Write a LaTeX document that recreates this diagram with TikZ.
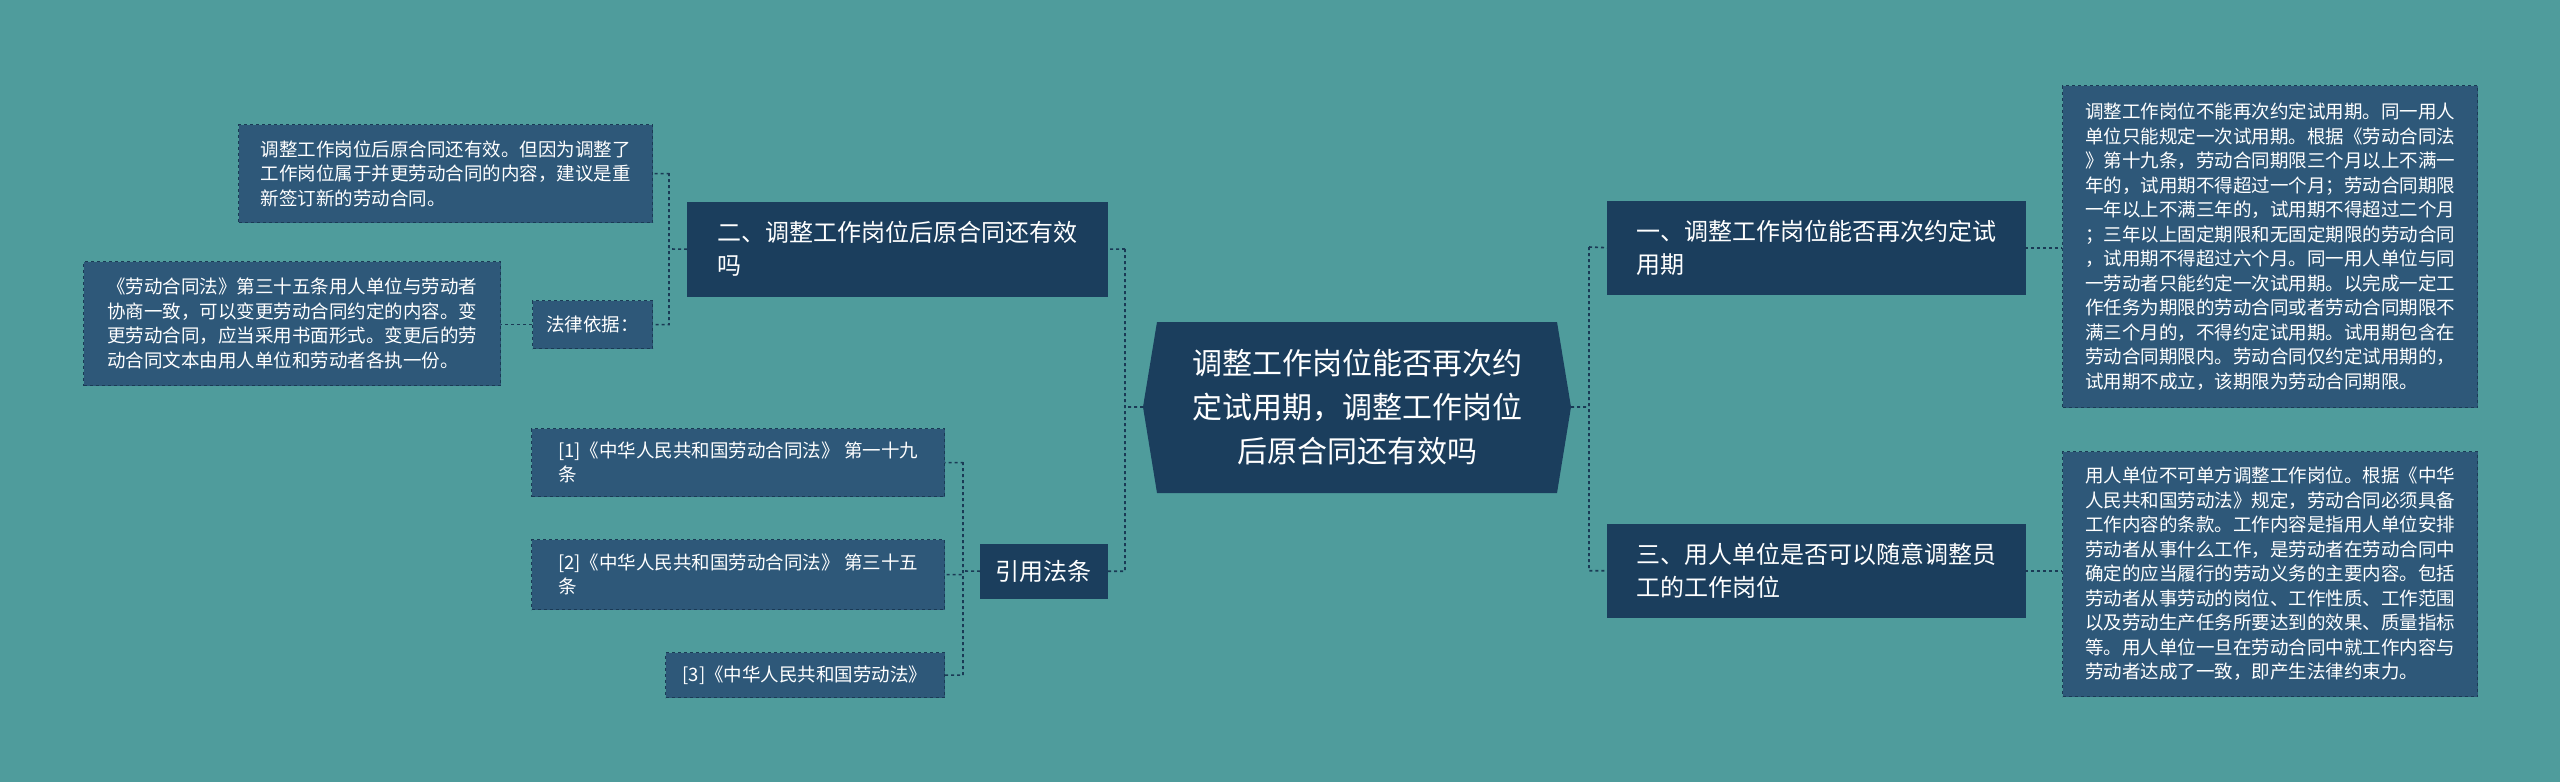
\documentclass[tikz,border=0pt]{standalone}
\usepackage{fontspec}
\setmainfont{Noto Sans CJK SC}
\begin{document}
\begin{tikzpicture}[x=1pt,y=-1pt,
  main/.style={fill=mainc,draw=mainc,text=white,anchor=north west,align=left,inner xsep=10pt,font=\fontsize{24}{33}\selectfont},
  leaf/.style={fill=leafc,draw=linec,dashed,line width=1.2pt,text=white,anchor=north west,align=left,inner xsep=10pt,font=\fontsize{18.5}{24.5}\selectfont},
  conn/.style={draw=linec,dashed,line width=1.6pt}]
\definecolor{bgc}{HTML}{4F9C9C}
\definecolor{mainc}{HTML}{1B3E5D}
\definecolor{leafc}{HTML}{2E5879}
\definecolor{linec}{HTML}{1A3A55}
\fill[bgc] (0,0) rectangle (2560,782);
\useasboundingbox (0,0) rectangle (2560,782);
% center
\fill[mainc] (1143,407) -- (1157,322) -- (1557,322) -- (1571,407) -- (1557,493) -- (1157,493) -- cycle;
\node[text=white,align=center,font=\fontsize{30}{44}\selectfont] (c) at (1357,407) {调整工作岗位能否再次约\\定试用期，调整工作岗位\\后原合同还有效吗};
\coordinate (cw) at (1143,407);
\coordinate (ce) at (1571,407);
% right
\node[main,minimum width=418pt,minimum height=93pt] (r1) at (1607,201) {一、调整工作岗位能否再次约定试\\用期};
\node[main,minimum width=418pt,minimum height=93pt] (r3) at (1607,524) {三、用人单位是否可以随意调整员\\工的工作岗位};
\node[leaf,minimum width=415pt,minimum height=322pt] (t1) at (2062,85) {调整工作岗位不能再次约定试用期。同一用人\\单位只能规定一次试用期。根据《劳动合同法\\》第十九条，劳动合同期限三个月以上不满一\\年的，试用期不得超过一个月；劳动合同期限\\一年以上不满三年的，试用期不得超过二个月\\；三年以上固定期限和无固定期限的劳动合同\\，试用期不得超过六个月。同一用人单位与同\\一劳动者只能约定一次试用期。以完成一定工\\作任务为期限的劳动合同或者劳动合同期限不\\满三个月的，不得约定试用期。试用期包含在\\劳动合同期限内。劳动合同仅约定试用期的，\\试用期不成立，该期限为劳动合同期限。};
\node[leaf,minimum width=415pt,minimum height=245pt] (t3) at (2062,451) {用人单位不可单方调整工作岗位。根据《中华\\人民共和国劳动法》规定，劳动合同必须具备\\工作内容的条款。工作内容是指用人单位安排\\劳动者从事什么工作，是劳动者在劳动合同中\\确定的应当履行的劳动义务的主要内容。包括\\劳动者从事劳动的岗位、工作性质、工作范围\\以及劳动生产任务所要达到的效果、质量指标\\等。用人单位一旦在劳动合同中就工作内容与\\劳动者达成了一致，即产生法律约束力。};
% left
\node[main,minimum width=420pt,minimum height=94pt] (l2) at (687,202) {二、调整工作岗位后原合同还有效\\吗};
\node[leaf,minimum width=414pt,minimum height=98pt] (a1) at (238,124) {调整工作岗位后原合同还有效。但因为调整了\\工作岗位属于并更劳动合同的内容，建议是重\\新签订新的劳动合同。};
\node[leaf,minimum width=120pt,minimum height=48pt] (a2) at (532,300) {法律依据：};
\node[leaf,minimum width=417pt,minimum height=124pt] (a3) at (83,261) {《劳动合同法》第三十五条用人单位与劳动者\\协商一致，可以变更劳动合同约定的内容。变\\更劳动合同，应当采用书面形式。变更后的劳\\动合同文本由用人单位和劳动者各执一份。};
\node[main,minimum width=127pt,minimum height=54pt,inner xsep=12pt] (l4) at (980,544) {引用法条};
\node[leaf,minimum width=413pt,minimum height=68pt] (b1) at (531,428) {[1]《中华人民共和国劳动合同法》 第一十九\\条};
\node[leaf,minimum width=413pt,minimum height=70pt] (b2) at (531,539) {[2]《中华人民共和国劳动合同法》 第三十五\\条};
\node[leaf,minimum width=279pt,minimum height=45pt] (b3) at (665,652) {[3]《中华人民共和国劳动法》};
% connectors
\draw[conn] (cw) -- (1125,407) (1125,249) -- (l2.east) (1125,249) |- (l4.east) (1125,249) -- (1125,571);
\draw[conn] (ce) -- (1589,407) (1589,247) -- (r1.west) (1589,247) |- (r3.west);
\draw[conn] (r1.east) -- (t1.west|-r1.east);
\draw[conn] (r3.east) -- (t3.west|-r3.east);
\draw[conn] (l2.west) -- (669,249) (669,173) |- (a1.east) (669,173) |- (a2.east);
\draw[conn] (a2.west) -- (a3.east|-a2.west);
\draw[conn] (l4.west) -- (963,571) (963,462) |- (b1.east) (963,462) |- (b2.east) (963,462) |- (b3.east);
\end{tikzpicture}
\end{document}
